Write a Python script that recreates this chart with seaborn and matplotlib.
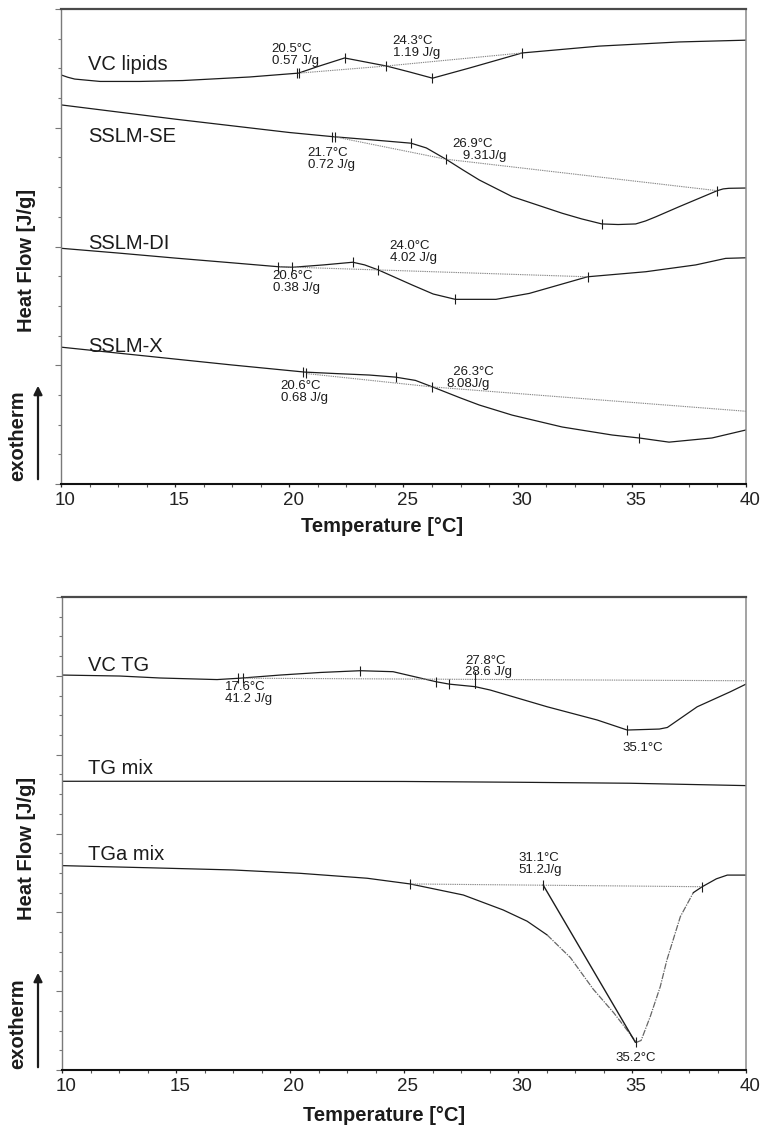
import numpy as np
import matplotlib
matplotlib.use("Agg")
import matplotlib.pyplot as plt
from matplotlib.ticker import MultipleLocator, NullFormatter
from matplotlib.transforms import ScaledTranslation
import seaborn as sns

# ── Top panel: VC lipids and the three SSLM samples ───────────────────────
vc_lip_t  = [10, 10.3, 10.6, 11.71, 13.45, 15.33, 18.26, 20.4, 21.32, 22.42, 24.25,
             25.26, 26.27, 27.88, 30.2, 33.57, 37.07, 40]
vc_lip_hf = [13.78, 13.70, 13.64, 13.56, 13.56, 13.59, 13.71, 13.84, 14.08, 14.35, 14.08,
             13.88, 13.67, 14.01, 14.52, 14.75, 14.89, 14.95]
vc_lip_base_t  = [20.42, 24.25, 30.2]
vc_lip_base_hf = [13.84, 14.08, 14.52]
vc_lip_tick_t  = [20.35, 20.42, 22.42, 24.25, 26.27, 30.2]
vc_lip_tick_hf = [13.83, 13.84, 14.35, 14.08, 13.67, 14.52]

se_t  = [10, 15, 20, 21.9, 23.5, 25.33, 26.0, 26.86, 27.6, 28.32, 29.76, 31.95, 32.8,
         33.69, 34.4, 35.17, 35.6, 36.05, 37.07, 38.74, 39.0, 39.25, 40]
se_hf = [12.77, 12.29, 11.84, 11.70, 11.60, 11.48, 11.32, 10.94, 10.58, 10.24, 9.68, 9.12, 8.93,
         8.76, 8.74, 8.76, 8.86, 9.00, 9.34, 9.88, 9.94, 9.96, 9.97]
se_base_t  = [21.95, 26.86, 38.74]
se_base_hf = [11.70, 10.94, 9.88]
se_tick_t  = [21.89, 22.02, 25.33, 26.86, 33.69, 38.74]
se_tick_hf = [11.70, 11.69, 11.48, 10.94, 8.76, 9.88]

di_t  = [10, 12.5, 15, 17.5, 19.5, 20.13, 21.5, 22.78, 23.3, 23.9, 25.39, 26.3,
         27.27, 29.05, 30.51, 33.06, 35.61, 37.8, 39.11, 40]
di_hf = [7.94, 7.78, 7.61, 7.45, 7.32, 7.30, 7.38, 7.47, 7.38, 7.21, 6.70, 6.40,
         6.22, 6.22, 6.42, 6.98, 7.15, 7.38, 7.60, 7.62]
di_base_t  = [19.5, 23.9, 33.06]
di_base_hf = [7.32, 7.21, 6.98]
di_tick_t  = [19.5, 20.13, 22.78, 23.9, 27.27, 33.06]
di_tick_hf = [7.32, 7.30, 7.47, 7.21, 6.22, 6.98]

x_t  = [10, 12.49, 14.98, 17.48, 20.67, 22.03, 23.51, 24.65, 25.52, 26.27, 27.49,
        28.32, 29.76, 31.95, 34.14, 35.32, 36.63, 38.51, 40]
x_hf = [4.61, 4.41, 4.21, 4.01, 3.77, 3.72, 3.67, 3.60, 3.49, 3.27, 2.90,
        2.66, 2.32, 1.92, 1.65, 1.55, 1.41, 1.55, 1.82]
x_base_t  = [20.74, 26.27, 40]
x_base_hf = [3.72, 3.27, 2.45]
x_tick_t  = [20.62, 20.74, 24.65, 26.27, 35.32]
x_tick_hf = [3.76, 3.75, 3.60, 3.27, 1.55]

# ── Bottom panel: VC TG, TG mix, TGa mix ──────────────────────────────────
vctg_t  = [10, 12.54, 14.3, 16.8, 17.8, 19.57, 21.32, 23.08, 24.52, 26.41, 26.98,
           28.12, 28.78, 31.28, 33.47, 34.79, 36.2, 36.55, 37.86, 39.31, 40]
vctg_hf = [20.04, 19.99, 19.89, 19.81, 19.88, 20.04, 20.17, 20.26, 20.21, 19.70, 19.58,
           19.45, 19.28, 18.43, 17.76, 17.25, 17.30, 17.38, 18.43, 19.19, 19.58]
vctg_base_t  = [17.93, 40]
vctg_base_hf = [19.88, 19.75]
vctg_tick_t  = [17.74, 17.93, 23.08, 26.41, 26.98, 34.79]
vctg_tick_hf = [19.88, 19.88, 20.26, 19.70, 19.58, 17.25]
vctg_mark_t  = [28.12, 28.12]
vctg_mark_hf = [19.37, 20.21]

tgmix_t  = [10, 20, 25, 30, 34.9, 40]
tgmix_hf = [14.65, 14.65, 14.64, 14.60, 14.55, 14.43]

tga_a_t  = [10, 13.86, 17.5, 20.44, 23.38, 25.27, 27.6, 29.35, 30.4, 31.28]
tga_a_hf = [10.37, 10.26, 10.15, 9.98, 9.73, 9.44, 8.88, 8.12, 7.55, 6.85]
tga_b_t  = [31.28, 32.3, 33.3, 34.2, 34.8, 35.19, 35.4, 35.8, 36.24, 36.53, 37.12, 37.69]
tga_b_hf = [6.85, 5.7, 4.1, 2.9, 2.0, 1.40, 1.5, 2.71, 4.23, 5.58, 7.78, 9.0]
tga_c_t  = [37.69, 38.08, 38.7, 39.18, 40]
tga_c_hf = [9.0, 9.30, 9.70, 9.89, 9.89]
tga_base_t  = [25.27, 38.08]
tga_base_hf = [9.44, 9.30]
tga_drop_t  = [31.1, 35.15]
tga_drop_hf = [9.39, 1.40]
tga_tick_t  = [25.27, 31.1, 35.19, 38.08]
tga_tick_hf = [9.44, 9.39, 1.40, 9.30]

LINE = "#1c1c1c"
BASE = "#8a8a8a"

sns.set_theme(style="ticks")
plt.rcParams["font.family"] = ["Liberation Sans", "DejaVu Sans"]

fig = plt.figure(figsize=(7.64, 11.27), dpi=100)
ax_top = fig.add_axes([61 / 764, 1 - 484 / 1127, 685 / 764, 475 / 1127])
ax_bot = fig.add_axes([62 / 764, 1 - 1070 / 1127, 684 / 764, 473 / 1127])


def curve(ax, t, hf, **kw):
    sns.lineplot(x=t, y=hf, ax=ax, color=kw.pop("color", LINE), lw=kw.pop("lw", 0.9),
                 sort=False, estimator=None, **kw)


def baseline(ax, t, hf):
    ax.plot(t, hf, color=BASE, lw=0.8, ls=(0, (1.2, 0.8)))


def ticks(ax, t, hf):
    ax.plot(t, hf, ls="none", marker="|", ms=7.5, mew=0.8, color=LINE)


def style_axes(ax, ytop):
    ax.set_xlim(10, 40)
    ax.set_ylim(0, ytop)
    ax.xaxis.set_major_locator(MultipleLocator(5))
    ax.xaxis.set_minor_locator(MultipleLocator(1.25))
    ax.yaxis.set_major_locator(MultipleLocator(4))
    ax.yaxis.set_minor_locator(MultipleLocator(1))
    ax.yaxis.set_major_formatter(NullFormatter())
    ax.tick_params(axis="x", which="major", length=2.5, width=0.9, colors="#222",
                   labelsize=13.5, pad=3)
    ax.tick_params(axis="x", which="minor", length=2.2, width=0.8, color="#555")
    ax.tick_params(axis="y", which="major", length=4.5, width=0.8, color="#777")
    ax.tick_params(axis="y", which="minor", length=2.0, width=0.8, color="#777")
    ax.spines["top"].set_color("#4a4a4a")
    ax.spines["top"].set_linewidth(1.6)
    ax.spines["right"].set_color("#8a8a8a")
    ax.spines["right"].set_linewidth(1.1)
    ax.spines["left"].set_color("#7a7a7a")
    ax.spines["left"].set_linewidth(1.0)
    ax.spines["bottom"].set_color("#111")
    ax.spines["bottom"].set_linewidth(1.5)
    ax.set_ylabel("")
    shift = ScaledTranslation(4 / 100, 0, fig.dpi_scale_trans)
    for lab in ax.get_xticklabels():
        lab.set_transform(lab.get_transform() + shift)


ann = dict(fontsize=9.5, color=LINE, ha="left", va="top", linespacing=0.95)
name = dict(fontsize=14.5, color=LINE, ha="left", va="baseline")

# ── Top panel ─────────────────────────────────────────────────────────────
ax = ax_top
for t, hf in [(vc_lip_t, vc_lip_hf), (se_t, se_hf), (di_t, di_hf), (x_t, x_hf)]:
    curve(ax, t, hf)
for t, hf in [(vc_lip_base_t, vc_lip_base_hf), (se_base_t, se_base_hf),
              (di_base_t, di_base_hf), (x_base_t, x_base_hf)]:
    baseline(ax, t, hf)
for t, hf in [(vc_lip_tick_t, vc_lip_tick_hf), (se_tick_t, se_tick_hf),
              (di_tick_t, di_tick_hf), (x_tick_t, x_tick_hf)]:
    ticks(ax, t, hf)

ax.text(11.18, 13.94, "VC lipids", **name)
ax.text(11.18, 11.53, "SSLM-SE", **name)
ax.text(11.18, 7.92, "SSLM-DI", **name)
ax.text(11.18, 4.46, "SSLM-X", **name)

ax.text(19.23, 14.85, "20.5°C\n0.57 J/g", **ann)
ax.text(24.52, 15.12, "24.3°C\n1.19 J/g", **ann)
ax.text(20.80, 11.35, "21.7°C\n0.72 J/g", **ann)
ax.text(27.14, 11.65, "26.9°C\n   9.31J/g", **ann)
ax.text(19.27, 7.21, "20.6°C\n0.38 J/g", **ann)
ax.text(24.39, 8.22, "24.0°C\n4.02 J/g", **ann)
ax.text(19.62, 3.50, "20.6°C\n0.68 J/g", **ann)
ax.text(26.87, 3.97, "  26.3°C\n8.08J/g", **ann)
style_axes(ax, 16)
ax.set_xlabel("Temperature [°C]", fontsize=14.5, fontweight="bold", color=LINE)
ax.xaxis.set_label_coords(0.469, -0.070)
ax.xaxis.label.set_va("top")

# ── Bottom panel ──────────────────────────────────────────────────────────
ax = ax_bot
curve(ax, vctg_t, vctg_hf)
curve(ax, tgmix_t, tgmix_hf)
curve(ax, tga_a_t, tga_a_hf)
curve(ax, tga_b_t, tga_b_hf, color="#666", lw=0.9, linestyle=(0, (5, 1, 1, 1)))
curve(ax, tga_c_t, tga_c_hf)
baseline(ax, vctg_base_t, vctg_base_hf)
baseline(ax, tga_base_t, tga_base_hf)
ax.plot(tga_drop_t, tga_drop_hf, color=LINE, lw=1.0)
ax.plot(vctg_mark_t, vctg_mark_hf, color=LINE, lw=0.8)
ticks(ax, vctg_tick_t, vctg_tick_hf)
ticks(ax, tga_tick_t, tga_tick_hf)

ax.text(11.14, 20.26, "VC TG", **name)
ax.text(11.14, 15.02, "TG mix", **name)
ax.text(11.14, 10.65, "TGa mix", **name)

ax.text(17.15, 19.72, "17.6°C\n41.2 J/g", **ann)
ax.text(27.68, 21.06, "27.8°C\n28.6 J/g", **ann)
ax.text(34.57, 16.64, "35.1°C", **ann)
ax.text(30.01, 11.06, "31.1°C\n51.2J/g", **ann)
ax.text(34.27, 0.91, "35.2°C", **ann)
style_axes(ax, 24)
ax.set_xlabel("Temperature [°C]", fontsize=14.5, fontweight="bold", color=LINE)
ax.xaxis.set_label_coords(0.4715, -0.076)
ax.xaxis.label.set_va("top")

# ── Y axis captions and exotherm arrows (figure coordinates) ──────────────
H = 1127
for cy_heat, cy_exo, y0, y1 in [(260, 436, 482, 383), (848, 1024, 1070, 970)]:
    fig.text(26 / 764, 1 - cy_heat / H, "Heat Flow [J/g]", rotation=90, fontsize=14.5,
             fontweight="bold", ha="center", va="center", color=LINE)
    fig.text(18 / 764, 1 - cy_exo / H, "exotherm", rotation=90, fontsize=14.5,
             fontweight="bold", ha="center", va="center", color=LINE)
    fig.add_artist(matplotlib.patches.FancyArrowPatch(
        (38 / 764, 1 - y0 / H), (38 / 764, 1 - y1 / H), transform=fig.transFigure,
        arrowstyle="-|>,head_length=5,head_width=2.5", lw=1.6, color=LINE))

fig.savefig("out.png", dpi=100, facecolor="white")
